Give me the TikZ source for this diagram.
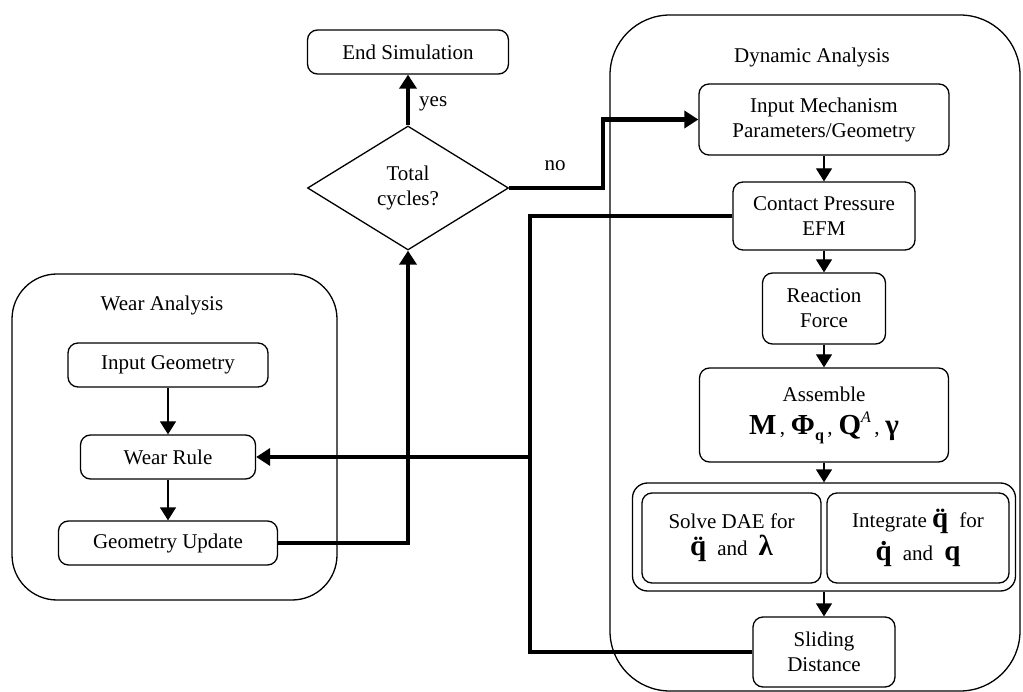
\documentclass[tikz,border=0pt]{standalone}
\usepackage{fontspec}
\setmainfont{Liberation Serif}
\usetikzlibrary{arrows.meta,shapes.geometric}
\newcommand\mbig[1]{{\fontsize{29}{31}\selectfont\bfseries #1}}
\newcommand\msub[1]{\raisebox{-6pt}{\fontsize{16}{16}\selectfont\bfseries #1}}
\newcommand\msup[1]{\raisebox{12pt}{\fontsize{16}{16}\selectfont\itshape #1}}
\begin{document}
\begin{tikzpicture}[x=1pt,y=-1pt,
  box/.style={draw, line width=1.3pt, rounded corners=10pt, align=center, inner sep=0pt,
    font=\fontsize{21}{25}\selectfont},
  container/.style={draw, line width=1.3pt, inner sep=0pt},
  title/.style={font=\fontsize{21}{25}\selectfont, inner sep=0pt},
  thinarrow/.style={line width=1.3pt, -{Triangle[length=13pt,width=16pt]}},
  bus/.style={line width=4.5pt, line join=miter},
  busarrow/.style={line width=4.5pt, line join=miter, -{Triangle[length=14pt,width=17pt]}},
]
\useasboundingbox (0,0) rectangle (1023,692);

% containers
\node[container, rounded corners=60pt, minimum width=410pt, minimum height=676pt] (dyn) at (815,353) {};
\node[title] (dyntitle) at (812,57) {Dynamic Analysis};
\node[container, rounded corners=45pt, minimum width=325pt, minimum height=326pt] (wear) at (174.5,437) {};
\node[title] (weartitle) at (162,305) {Wear Analysis};

% dynamic analysis nodes
\node[box, minimum width=250pt, minimum height=71pt] (im) at (824,119.5) {Input Mechanism\\Parameters/Geometry};
\node[box, minimum width=182pt, minimum height=68pt] (cp) at (824,216) {Contact Pressure\\EFM};
\node[box, minimum width=123pt, minimum height=71pt] (rf) at (824,308.5) {Reaction\\Force};
\node[box, minimum width=249pt, minimum height=94pt] (as) at (824,415)
  {Assemble\\[8pt]\mbig{M}\,,\;\mbig{Φ}\msub{q}\,,\;\mbig{Q}\msup{A}\,,\;\mbig{γ}};
\node[box, rounded corners=15pt, minimum width=383pt, minimum height=108pt] (solve) at (824,537) {};
\node[box, minimum width=179pt, minimum height=90pt] (sv1) at (731.5,538)
  {Solve DAE for\\[2pt]\mbig{\"q}\; and \;\mbig{λ}};
\node[box, minimum width=182pt, minimum height=90pt] (sv2) at (918,538)
  {Integrate \mbig{\"q}\; for\\[6pt]\mbig{\.q}\; and \;\mbig{q}};
\node[box, minimum width=142pt, minimum height=70pt] (sd) at (824,652) {Sliding\\Distance};

% wear nodes
\node[box, minimum width=200pt, minimum height=44pt] (ig) at (168,365) {Input Geometry};
\node[box, minimum width=175pt, minimum height=44pt] (wr) at (168,457) {Wear Rule};
\node[box, minimum width=219pt, minimum height=44pt] (gu) at (168,543) {Geometry Update};

% decision
\node[box, minimum width=201pt, minimum height=44pt] (end) at (408,52) {End Simulation};
\node[draw, line width=1.3pt, shape=diamond, aspect=1.62, inner sep=0pt,
  minimum width=201pt, minimum height=124pt, align=center,
  font=\fontsize{21}{25}\selectfont] (dia) at (408,188) {Total\\cycles?};

% labels
\node[title, anchor=west] (yes) at (419,104) {yes};
\node[title] (no) at (555,166) {no};

% thin arrows
\draw[thinarrow] (im.south) -- (cp.north);
\draw[thinarrow] (cp.south) -- (rf.north);
\draw[thinarrow] (rf.south) -- (as.north);
\draw[thinarrow] (as.south) -- (solve.north);
\draw[thinarrow] (solve.south) -- (sd.north);
\draw[thinarrow] (ig.south) -- (wr.north);
\draw[thinarrow] (wr.south) -- (gu.north);

% thick connectors
\coordinate (c1) at (603,188);
\coordinate (bus) at (530,457);
\draw[busarrow] (gu.east) -| (dia.south);
\draw[busarrow] (dia.north) -- (end.south);
\draw[busarrow] (dia.east) -- (c1) |- (im.west);
\draw[bus] (cp.west) -| (bus) |- (sd.west);
\draw[busarrow] (bus) -- (wr.east);
\end{tikzpicture}
\end{document}
